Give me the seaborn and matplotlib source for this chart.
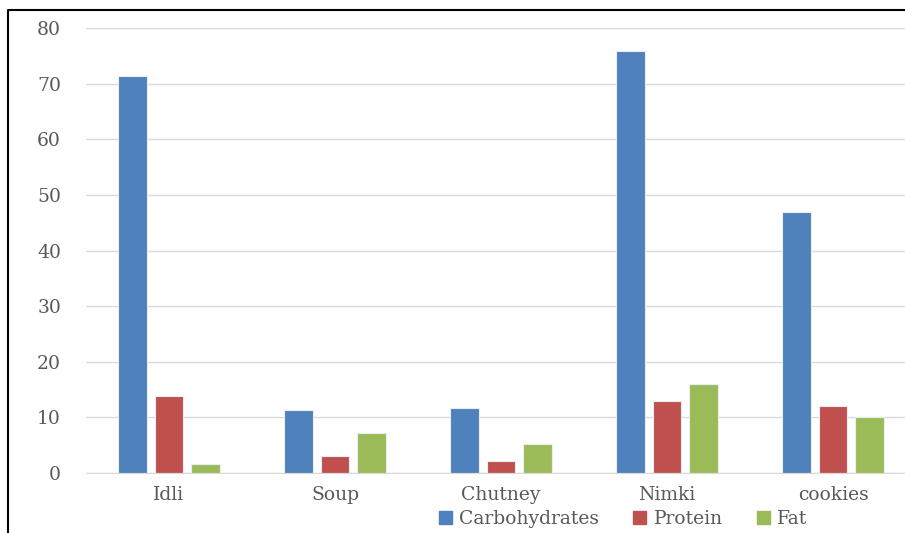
import pandas as pd
import seaborn as sns
import matplotlib.pyplot as plt
from matplotlib.lines import Line2D

# data
foods = ['Idli', 'Soup', 'Chutney', 'Nimki', 'cookies']
carbohydrates = [71.4, 11.4, 11.6, 75.8, 47.0]
protein = [13.9, 3.1, 2.2, 12.9, 12.1]
fat = [1.7, 7.2, 5.2, 16.0, 10.1]

nutrients = ['Carbohydrates', 'Protein', 'Fat']
colors = ['#4F81BD', '#C0504D', '#9BBB59']

df = pd.DataFrame({'food': foods, 'Carbohydrates': carbohydrates,
                   'Protein': protein, 'Fat': fat})
long_df = df.melt(id_vars='food', var_name='nutrient', value_name='value')

sns.set_style('white')
plt.rcParams['font.family'] = ['DejaVu Serif']

W, H = 905, 533
fig = plt.figure(figsize=(W / 100, H / 100), dpi=100)
ax = fig.add_axes([86 / W, (H - 473) / H, 830 / W, 445 / H])

sns.barplot(data=long_df, x='food', y='value', hue='nutrient',
            hue_order=nutrients, palette=colors, saturation=1,
            width=0.66, gap=0.22, edgecolor='#e8eef6', linewidth=0.8,
            ax=ax, legend=False)

ax.set_ylim(0, 80)
ax.set_xlim(-0.5, 4.5)
ax.set_yticks(range(0, 81, 10))
ax.yaxis.grid(True, color='#d9d9d9', linewidth=1)
ax.set_axisbelow(True)
ax.set_xlabel('')
ax.set_ylabel('')
for s in ['top', 'right', 'left']:
    ax.spines[s].set_visible(False)
ax.spines['bottom'].set_color('#d9d9d9')
ax.tick_params(axis='y', length=0, pad=18, labelsize=13.5, labelcolor='#595959')
ax.tick_params(axis='x', length=0, pad=9, labelsize=13.5, labelcolor='#595959')

handles = [plt.Rectangle((0, 0), 1, 1, color=c) for c in colors]
fig.legend(handles, nutrients, loc='center', bbox_to_anchor=(623 / W, 1 - 519 / H),
           ncol=3, frameon=False, fontsize=13.5, labelcolor='#595959',
           handlelength=0.7, handleheight=0.7, handletextpad=0.4, columnspacing=1.8,
           borderpad=0, borderaxespad=0)

# border line on left and top
fig.add_artist(Line2D([8 / W, 8 / W, 1], [0, 1 - 10 / H, 1 - 10 / H],
                      color='black', linewidth=1.5, transform=fig.transFigure))

fig.savefig('out.png', dpi=100)
